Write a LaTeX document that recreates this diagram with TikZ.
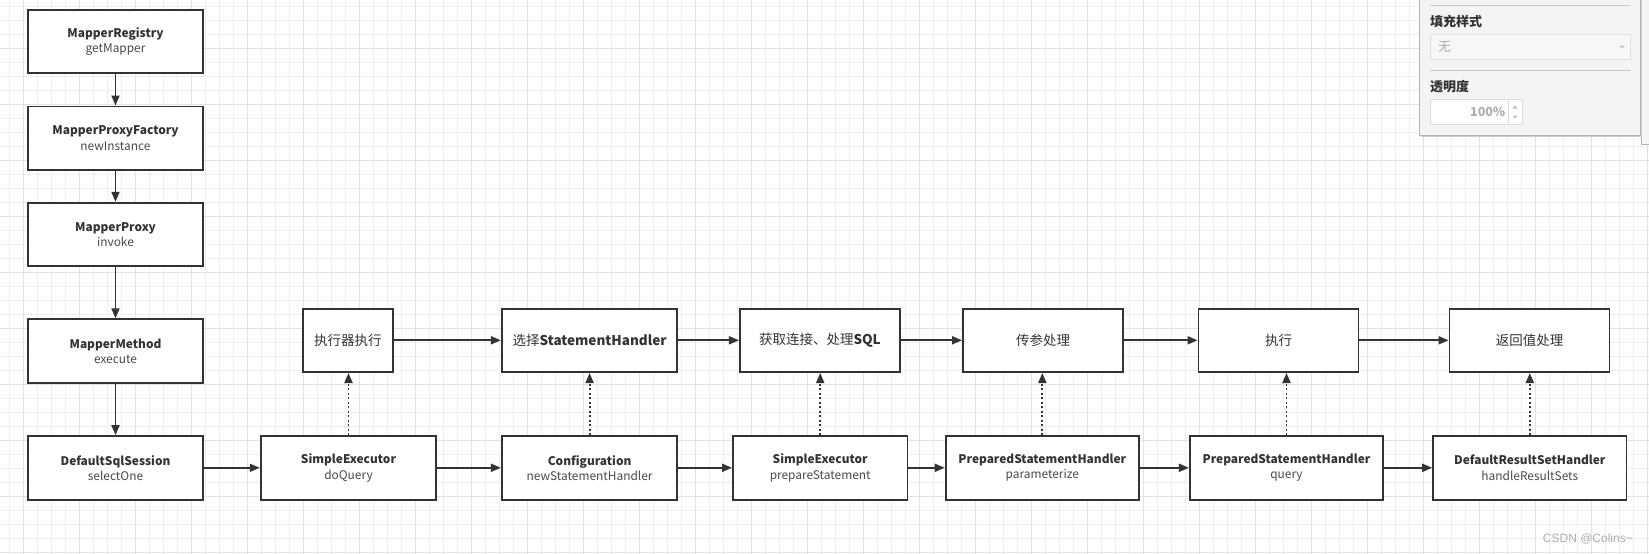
\documentclass[tikz,border=0pt]{standalone}
\usepackage{fontspec}
\setmainfont{Noto Sans CJK SC}
\newfontfamily\wmfont{Liberation Sans}
\usetikzlibrary{arrows.meta}
\definecolor{lnGray}{HTML}{333333}
\definecolor{txGray}{HTML}{333333}
\definecolor{mdGray}{HTML}{4A4A4A}
\definecolor{gridMinor}{HTML}{EFEFEF}
\definecolor{gridMajor}{HTML}{E2E2E2}
\definecolor{pnlFill}{HTML}{F4F4F4}
\definecolor{pnlLine}{HTML}{B4B4B4}
\definecolor{hintGray}{HTML}{ADADAD}
\tikzset{
    cls/.style={draw=lnGray, line width=1.9pt, fill=white, minimum width=175.6pt,
        minimum height=63.5pt, align=center, text=txGray, inner sep=0pt,
        font=\fontsize{11.9}{15.3}\selectfont},
    stage/.style={cls, minimum width=160pt, font=\fontsize{13.5}{15.3}\selectfont},
    flow/.style={draw=lnGray, line width=1.8pt, -{Triangle[length=10pt,width=8pt]}},
    dep/.style={flow, dash pattern=on 2pt off 2.5pt},
    grid minor/.style={line width=1pt, gridMinor},
    grid major/.style={line width=1pt, gridMajor},
    pnl text/.style={anchor=west, inner sep=0pt, text=txGray, font=\fontsize{13}{15}\selectfont\bfseries}
}

\begin{document}
\begin{tikzpicture}[x=1pt,y=-1pt]
\useasboundingbox (0,0) rectangle (1649,554);
\fill[white] (0,0) rectangle (1649,554);
\foreach \i in {0,...,117} \draw[grid minor] ({9.7+14*\i},0) -- ++(0,554);
\foreach \j in {0,...,39} \draw[grid minor] (0,{6.3+14*\j}) -- ++(1649,0);
\foreach \i in {0,...,29} \draw[grid major] ({23.7+56*\i},0) -- ++(0,554);
\foreach \j in {0,...,9} \draw[grid major] (0,{48.3+56*\j}) -- ++(1649,0);

\node[cls] (reg) at (115.5, 41.3) {\textbf{MapperRegistry}\\{\color{mdGray}getMapper}};
\node[cls] (fac) at (115.5,138.2) {\textbf{MapperProxyFactory}\\{\color{mdGray}newInstance}};
\node[cls] (prx) at (115.5,234.5) {\textbf{MapperProxy}\\{\color{mdGray}invoke}};
\node[cls] (mth) at (115.5,351.0) {\textbf{MapperMethod}\\{\color{mdGray}execute}};
\node[cls] (dss) at (115.5,467.8) {\textbf{DefaultSqlSession}\\{\color{mdGray}selectOne}};

\node[stage,minimum width=89.7pt] (run) at ( 347.8,340.3) {执行器执行};
\node[stage,minimum width=175.6pt] (pick) at ( 589.6,340.3) {选择\textbf{StatementHandler}};
\node[stage] (conn) at ( 819.9,340.3) {获取连接、处理\textbf{SQL}};
\node[stage] (param) at (1043.0,340.3) {传参处理};
\node[stage] (exe) at (1278.5,340.3) {执行};
\node[stage] (res) at (1529.5,340.3) {返回值处理};

\node[cls] (sexe) at ( 348.5,467.8) {\textbf{SimpleExecutor}\\{\color{mdGray}doQuery}};
\node[cls] (cfg) at ( 589.6,467.8) {\textbf{Configuration}\\{\color{mdGray}newStatementHandler}};
\node[cls,minimum width=174.5pt] (sprep) at ( 820.2,467.8) {\textbf{SimpleExecutor}\\{\color{mdGray}prepareStatement}};
\node[cls,minimum width=193.3pt] (psp) at (1042.3,467.8) {\textbf{PreparedStatementHandler}\\{\color{mdGray}parameterize}};
\node[cls,minimum width=193.3pt] (psq) at (1286.5,467.8) {\textbf{PreparedStatementHandler}\\{\color{mdGray}query}};
\node[cls,minimum width=193.3pt] (drs) at (1529.8,467.8) {\textbf{DefaultResultSetHandler}\\{\color{mdGray}handleResultSets}};

\draw[flow] (reg) -- (fac);
\draw[flow] (fac) -- (prx);
\draw[flow] (prx) -- (mth);
\draw[flow] (mth) -- (dss);
\draw[flow] (dss) -- (sexe);
\draw[flow] (sexe) -- (cfg);
\draw[flow] (cfg) -- (sprep);
\draw[flow] (sprep) -- (psp);
\draw[flow] (psp) -- (psq);
\draw[flow] (psq) -- (drs);
\draw[flow] (run) -- (pick);
\draw[flow] (pick) -- (conn);
\draw[flow] (conn) -- (param);
\draw[flow] (param) -- (exe);
\draw[flow] (exe) -- (res);
\draw[dep] (sexe.north) -- (sexe.north |- run.south);
\draw[dep] (cfg.north) -- (cfg.north |- pick.south);
\draw[dep] (sprep.north) -- (sprep.north |- conn.south);
\draw[dep] (psp.north) -- (psp.north |- param.south);
\draw[dep] (psq.north) -- (psq.north |- exe.south);
\draw[dep] (drs.north) -- (drs.north |- res.south);

\node[anchor=east, inner sep=0pt, text=hintGray, font=\wmfont\fontsize{12}{14}\selectfont] (wm) at (1633,539.3) {CSDN @Colins\textasciitilde};

\filldraw[fill=pnlFill, draw=pnlLine] (1641,-1) rectangle (1651,144);
\fill[black!20] (1421,0) rectangle (1641.5,136.5);
\filldraw[fill=pnlFill, draw=pnlLine] (1419.3,-1) rectangle (1640,135);
\draw[black!22, line width=1pt] (1430,5.3) -- (1630,5.3);
\draw[black!22, line width=1pt] (1430,70.3) -- (1630,70.3);
\node[pnl text] (fillLbl) at (1430,21.7) {填充样式};
\filldraw[fill=black!3, draw=black!12] (1430,34.3) rectangle (1629.7,59.3);
\node[pnl text, text=hintGray, font=\fontsize{13}{15}\selectfont] (fillVal) at (1438,47) {无};
\fill[black!22] (1619,45.5) -- (1625,45.5) -- (1622,48.5) -- cycle;
\node[pnl text] (opaLbl) at (1430,86.7) {透明度};
\filldraw[fill=white, draw=black!14] (1430,99.3) rectangle (1521.7,124.3);
\draw[black!14] (1508.3,99.3) -- (1508.3,124.3);
\node[anchor=east, inner sep=0pt, text=hintGray, font=\fontsize{12.5}{14}\selectfont\bfseries] (opaVal) at (1505.5,112) {100\%};
\fill[black!25] (1512.5,108.5) -- (1517.5,108.5) -- (1515,105.5) -- cycle;
\fill[black!25] (1512.5,115.5) -- (1517.5,115.5) -- (1515,118.5) -- cycle;
\end{tikzpicture}
\end{document}
